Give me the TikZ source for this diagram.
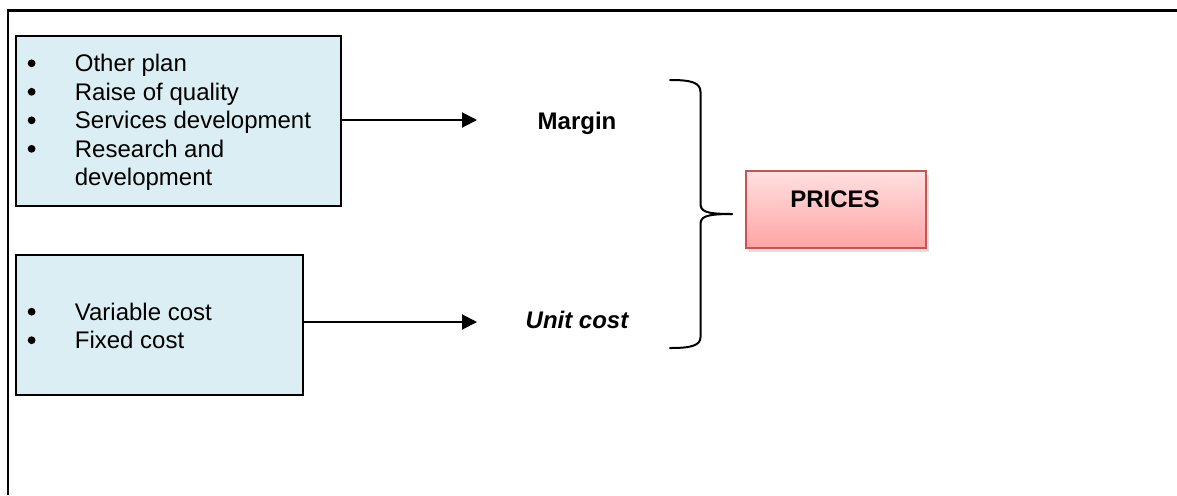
\documentclass[tikz,border=0pt]{standalone}
\usepackage{fontspec}
\setmainfont{Liberation Sans}
\usetikzlibrary{arrows.meta,shadows}
\definecolor{boxblue}{HTML}{DAEEF3}
\definecolor{priceborder}{HTML}{C65452}
\definecolor{pricetop}{HTML}{FFE0E0}
\definecolor{pricebot}{HTML}{FFA4A4}
\begin{document}
\begin{tikzpicture}[x=0.5pt,y=-0.5pt,
  inbox/.style={draw=black,line width=1.1pt,fill=boxblue,inner sep=0,anchor=north west},
  conn/.style={line width=1pt,-{Triangle[length=7.5pt,width=7.5pt]}},
  lbl/.style={font=\fontsize{12}{14}\selectfont\bfseries,anchor=base,inner sep=0},
  item/.style={font=\fontsize{12}{14}\selectfont,anchor=base west,inner sep=0},
  bul/.style={circle,fill=black,inner sep=0,minimum size=3.9pt},
  brace/.style={line width=1pt,line cap=round,line join=round}]
\useasboundingbox (0,0) rectangle (1177,495);
\fill[white] (0,0) rectangle (1177,495);
% outer frame (only top and left sides visible)
\draw[line width=1.1pt] (8,495) -- (8,10.5) -- (1177,10.5);

% upper box
\node[inbox,minimum width=162.5pt,minimum height=85pt] (b1) at (15,35) {};
\node[bul] (u1) at (31.6,63.3) {};
\node[bul] (u2) at (31.6,91.8) {};
\node[bul] (u3) at (31.6,120.3) {};
\node[bul] (u4) at (31.6,148.8) {};
\node[item] (t1) at (74.5,71.7) {Other plan};
\node[item] (t2) at (74.5,100.2) {Raise of quality};
\node[item] (t3) at (74.5,128.7) {Services development};
\node[item] (t4) at (74.5,157.2) {Research and};
\node[item] (t5) at (74.5,185.7) {development};

% lower box
\node[inbox,minimum width=143.5pt,minimum height=70pt] (b2) at (15,254) {};
\node[bul] (v1) at (31.6,311.7) {};
\node[bul] (v2) at (31.6,340.2) {};
\node[item] (s1) at (74.5,320.1) {Variable cost};
\node[item] (s2) at (74.5,348.6) {Fixed cost};

% labels
\node[lbl] (margin) at (577,129.3) {Margin};
\node[lbl,font=\fontsize{12}{14}\selectfont\bfseries\itshape] (unit) at (577,328) {Unit cost};

% arrows
\coordinate (a1end) at (477,120);
\coordinate (a2end) at (477,322);
\draw[conn] (b1.east |- a1end) -- (a1end);
\draw[conn] (b2.east |- a2end) -- (a2end);

% brace
\coordinate (cusp) at (732,214);
\draw[brace] (670,80) .. controls (690,80) and (700.5,82) .. (700.5,92) -- (700.5,203)
  .. controls (700.5,211) and (704,214) .. (cusp);
\draw[brace] (cusp) .. controls (704,214) and (700.5,217) .. (700.5,225) -- (700.5,337)
  .. controls (700.5,346) and (690,348) .. (670,348);

% prices box
\node[draw=priceborder,line width=1pt,top color=pricetop,bottom color=pricebot,
  minimum width=90pt,minimum height=38.5pt,inner sep=0,anchor=north west,
  drop shadow={shadow xshift=1.5pt,shadow yshift=-2pt,opacity=0.25,fill=gray}] (prices) at (745,170) {};
\node[lbl] (pricetxt) at (835,207) {PRICES};
\end{tikzpicture}
\end{document}
